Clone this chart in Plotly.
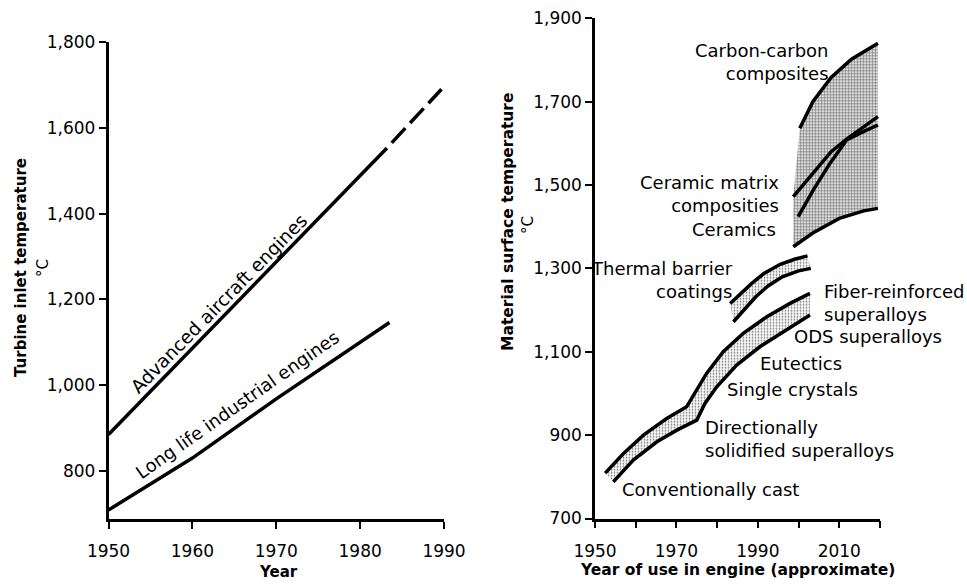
import plotly.graph_objects as go

W, H = 967, 584
FONT = "DejaVu Sans"

# ---------------- Left panel data ----------------
left_xticks = [1950, 1960, 1970, 1980, 1990]
left_yticks = [800, 1000, 1200, 1400, 1600, 1800]
aircraft_years = [1950, 1983.2]
aircraft_temps = [885, 1553]
aircraft_proj_years = [1983.2, 1989.7]
aircraft_proj_temps = [1553, 1690]
industrial_years = [1950, 1960, 1970, 1980, 1983.5]
industrial_temps = [709, 830, 968, 1099, 1146]

# ---------------- Right panel data ----------------
right_xticks = [1950, 1960, 1970, 1980, 1990, 2000, 2010, 2020]
right_xticklabels = ["1950", "", "1970", "", "1990", "", "2010", ""]
right_yticks = [700, 900, 1100, 1300, 1500, 1700, 1900]

alloy_upper_years = [1952.5, 1957.0, 1961.9, 1967.6, 1972.5, 1975.0, 1977.4, 1981.5, 1986.4, 1992.2, 1997.9, 2002.8]
alloy_upper_temps = [809, 856, 900, 940, 968, 1008, 1048, 1100, 1144, 1184, 1216, 1240]
alloy_lower_years = [1954.5, 1959.4, 1965.2, 1970.1, 1975.0, 1977.0, 1979.9, 1984.8, 1990.5, 1997.1, 2002.8]
alloy_lower_temps = [788, 840, 884, 912, 936, 976, 1016, 1068, 1112, 1152, 1188]

tbc_upper_years = [1983.2, 1985.5, 1988.5, 1991.5, 1995.5, 1999.0, 2002.2]
tbc_upper_temps = [1216, 1238, 1264, 1288, 1310, 1322, 1330]
tbc_lower_years = [1984.0, 1986.5, 1989.5, 1992.5, 1996.0, 2000.0, 2003.0]
tbc_lower_temps = [1172, 1200, 1232, 1258, 1280, 1294, 1300]

carbon_years = [2000.3, 2003.5, 2008.0, 2013.0, 2019.5]
carbon_temps = [1636, 1700, 1758, 1802, 1840]
cmc_years = [1998.7, 2003.5, 2008.0, 2011.8, 2016.0, 2019.5]
cmc_temps = [1472, 1528, 1580, 1610, 1640, 1664]
ceramic_years = [1999.9, 2003.6, 2007.7, 2011.8, 2015.9, 2019.5]
ceramic_temps = [1424, 1488, 1552, 1608, 1628, 1644]
composite_lower_years = [1998.7, 2003.5, 2010.0, 2016.0, 2019.5]
composite_lower_temps = [1352, 1385, 1420, 1438, 1444]

# ---------------- Labels ----------------
left_curve_labels = [
    ("Advanced aircraft engines", 1963.2, 1190, -45.5, 18.5),
    ("Long life industrial engines", 1965.4, 954, -35, 18),
]
right_labels = [
    ("Carbon-carbon<br>composites", 2008.0, 1795, "right"),
    ("Ceramic matrix<br>composities", 1995.8, 1478, "right"),
    ("Ceramics", 1995.0, 1394, "right"),
    ("Thermal barrier<br>coatings", 1984.4, 1273, "right"),
    ("Fiber-reinforced<br>superalloys", 2005.7, 1216, "left"),
    ("ODS superalloys", 1998.3, 1136, "left"),
    ("Eutectics", 1990.1, 1072, "left"),
    ("Single crystals", 1981.9, 1010, "left"),
    ("Directionally<br>solidified superalloys", 1976.6, 890, "left"),
    ("Conventionally cast", 1956.1, 770, "left"),
]

LW = 3.5
fig = go.Figure()


def line(xs, ys, xa="x", ya="y", dash="solid"):
    fig.add_trace(go.Scatter(x=xs, y=ys, mode="lines", xaxis=xa, yaxis=ya,
                             line=dict(color="black", width=LW, dash=dash),
                             hoverinfo="skip", showlegend=False))


def band(xs, ys, size, solidity):
    fig.add_trace(go.Scatter(x=xs, y=ys, mode="lines", xaxis="x2", yaxis="y2",
                             fill="toself", fillcolor="white",
                             fillpattern=dict(shape=".", fgcolor="black", bgcolor="white",
                                              size=size, solidity=solidity),
                             line=dict(width=0, color="rgba(0,0,0,0)"),
                             hoverinfo="skip", showlegend=False))


# left panel
line(aircraft_years, aircraft_temps)
line(aircraft_proj_years, aircraft_proj_temps, dash="0px,7px,20px,0px")
line(industrial_years, industrial_temps)

# right panel fills
band(alloy_upper_years + alloy_lower_years[::-1], alloy_upper_temps + alloy_lower_temps[::-1], 3, 0.3)
band(tbc_upper_years + tbc_lower_years[::-1], tbc_upper_temps + tbc_lower_temps[::-1], 3, 0.3)
band([composite_lower_years[0], cmc_years[0]] + carbon_years + composite_lower_years[::-1],
     [composite_lower_temps[0], cmc_temps[0]] + carbon_temps + composite_lower_temps[::-1], 3, 0.55)

# right panel lines
for xs, ys in [(alloy_upper_years, alloy_upper_temps), (alloy_lower_years, alloy_lower_temps),
               (tbc_upper_years, tbc_upper_temps), (tbc_lower_years, tbc_lower_temps),
               (carbon_years, carbon_temps), (cmc_years, cmc_temps),
               (ceramic_years, ceramic_temps), (composite_lower_years, composite_lower_temps)]:
    line(xs, ys, "x2", "y2")

axis_common = dict(showline=True, linecolor="black", linewidth=2.5, ticks="outside",
                   tickcolor="black", tickwidth=2, ticklen=7, showgrid=False, zeroline=False,
                   automargin=False,
                   tickfont=dict(family=FONT, size=17, color="black"), fixedrange=True)


def px_x(p):
    return p / W


def px_y(p):
    return 1 - p / H


fig.update_layout(
    width=W, height=H, margin=dict(l=0, r=0, t=0, b=0, autoexpand=False),
    paper_bgcolor="white", plot_bgcolor="white", showlegend=False,
    font=dict(family=FONT, color="black"),
    xaxis=dict(domain=[px_x(108.5), px_x(444)], range=[1950, 1990], anchor="y",
               tickvals=left_xticks, ticklabelstandoff=8, **axis_common),
    yaxis=dict(domain=[px_y(519), px_y(42)], range=[688, 1800], anchor="x",
               tickvals=left_yticks, tickformat=",d", **axis_common),
    xaxis2=dict(domain=[px_x(595), px_x(880)], range=[1950, 2020], anchor="y2",
                tickvals=right_xticks, ticktext=right_xticklabels, ticklabelstandoff=8, **axis_common),
    yaxis2=dict(domain=[px_y(518.5), px_y(18.3)], range=[700, 1900], anchor="x2",
                tickvals=right_yticks, tickformat=",d", **axis_common),
)

ann = []
for text, x, y, ang, size in left_curve_labels:
    ann.append(dict(text=text, x=x, y=y, xref="x", yref="y", textangle=ang, showarrow=False,
                    xanchor="center", yanchor="middle", font=dict(family=FONT, size=size)))
for text, x, y, anchor in right_labels:
    ann.append(dict(text=text, x=x, y=y, xref="x2", yref="y2", showarrow=False,
                    xanchor=anchor, yanchor="middle", align=anchor,
                    font=dict(family=FONT, size=18)))

titles = [
    ("<b>Turbine inlet temperature</b>", 21, 268, -90, 15),
    ("°C", 43, 268, -90, 15),
    ("<b>Material surface temperature</b>", 508, 222, -90, 15.5),
    ("°C", 528, 225, -90, 15),
    ("<b>Year</b>", 278, 572, 0, 15),
    ("<b>Year of use in engine (approximate)</b>", 737, 570, 0, 15.5),
]
for text, x, y, ang, size in titles:
    ann.append(dict(text=text, x=px_x(x), y=px_y(y), xref="paper", yref="paper", textangle=ang,
                    showarrow=False, xanchor="center", yanchor="middle",
                    font=dict(family=FONT, size=size)))

fig.update_layout(annotations=ann)
fig.write_html("out.html")
